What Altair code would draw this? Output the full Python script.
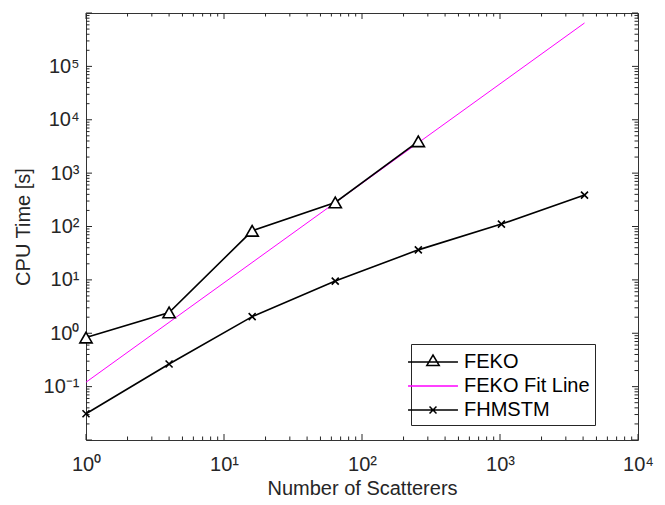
import json
import altair as alt
import pandas as pd

# ---- data ----
FEKO_N = [1, 4, 16, 64, 256]
FEKO_T = [0.83, 2.45, 83, 282, 3950]
FIT_N = [1, 4096]
FIT_T = [0.121, 6.5e5]
FHM_N = [1, 4, 16, 64, 256, 1024, 4096]
FHM_T = [0.031, 0.265, 2.05, 9.5, 36.5, 111, 388]

SERIES = ["FEKO", "FEKO Fit Line", "FHMSTM"]
SERIES_COLORS = ["#000000", "#ff00ff", "#000000"]

X_TICKS = [1, 10, 100, 1000, 10000]
X_TICK_LABELS = ["10⁰", "10¹", "10²", "10³", "10⁴"]
Y_TICKS = [0.1, 1, 10, 100, 1000, 10000, 100000]
Y_TICK_LABELS = ["10⁻¹", "10⁰", "10¹", "10²", "10³", "10⁴", "10⁵"]
X_MAJOR = [1, 10, 100, 1000, 10000]
Y_MAJOR = [1e-2, 1e-1, 1, 10, 100, 1e3, 1e4, 1e5, 1e6]
X_MINOR = [m * 10 ** d for d in range(0, 4) for m in range(2, 10)]
Y_MINOR = [m * 10.0 ** d for d in range(-2, 6) for m in range(2, 10)]

W, H = 552, 427
FONT = "Liberation Sans"
INK = "#262626"
FS = 20

xs = alt.Scale(type="log", domain=[1, 10000], nice=False)
ys = alt.Scale(type="log", domain=[0.01, 1e6], nice=False)

x_lab = json.dumps(X_TICK_LABELS, ensure_ascii=False)
y_lab = json.dumps(Y_TICK_LABELS, ensure_ascii=False)

x_axis = alt.Axis(
    title="Number of Scatterers", values=X_TICKS,
    labelExpr=f"{x_lab}[round(log(datum.value)/LN10)]",
    ticks=False, domain=False, grid=False, labelFlush=False, labelOverlap=False,
    labelFontSize=FS, labelFont=FONT, labelColor=INK, labelPadding=14,
    titleFontSize=FS, titleFont=FONT, titleColor=INK, titleFontWeight="normal",
    titlePadding=4,
)
y_axis = alt.Axis(
    title="CPU Time [s]", values=Y_TICKS,
    labelExpr=f"{y_lab}[round(log(datum.value)/LN10)+1]",
    ticks=False, domain=False, grid=False, labelFlush=False, labelOverlap=False,
    labelFontSize=FS, labelFont=FONT, labelColor=INK, labelPadding=7,
    titleFontSize=FS, titleFont=FONT, titleColor=INK, titleFontWeight="normal",
    titlePadding=10,
)

feko = pd.DataFrame({"n": FEKO_N, "t": FEKO_T})
fit = pd.DataFrame({"n": FIT_N, "t": FIT_T})
fhm = pd.DataFrame({"n": FHM_N, "t": FHM_T})


def xq(field):
    return alt.X(f"{field}:Q", scale=xs, axis=x_axis)


def yq(field):
    return alt.Y(f"{field}:Q", scale=ys, axis=y_axis)


def xticks(vals, length, top):
    d = pd.DataFrame({"v": vals})
    return alt.Chart(d).mark_rule(color=INK, strokeWidth=1).encode(
        x=xq("v"),
        y=alt.value(0 if top else H),
        y2=alt.value(length if top else H - length),
    )


def yticks(vals, length, right):
    d = pd.DataFrame({"v": vals})
    return alt.Chart(d).mark_rule(color=INK, strokeWidth=1).encode(
        y=yq("v"),
        x=alt.value(W if right else 0),
        x2=alt.value(W - length if right else length),
    )


tick_layers = [
    xticks(X_MAJOR, 6, True), xticks(X_MAJOR, 6, False),
    xticks(X_MINOR, 3.5, True), xticks(X_MINOR, 3.5, False),
    yticks(Y_MAJOR, 6, True), yticks(Y_MAJOR, 6, False),
    yticks(Y_MINOR, 3.5, True), yticks(Y_MINOR, 3.5, False),
]

fhm_line = alt.Chart(fhm).mark_line(color="black", strokeWidth=1.6).encode(
    x=xq("n"), y=yq("t")
)
fit_line = alt.Chart(fit).mark_line(color="#ff00ff", strokeWidth=1).encode(
    x=xq("n"), y=yq("t")
)
feko_line = alt.Chart(feko).mark_line(color="black", strokeWidth=1.6).encode(
    x=xq("n"), y=yq("t")
)
feko_pts = alt.Chart(feko).mark_point(
    shape="triangle-up", size=150, filled=False, color="black", fill="white",
    strokeWidth=1.6, opacity=1
).encode(x=xq("n"), y=yq("t"))
fhm_pts = alt.Chart(fhm).mark_point(
    shape="M-1,-1L1,1M-1,1L1,-1", size=49, filled=False, color="black",
    strokeWidth=1.6, opacity=1
).encode(x=xq("n"), y=yq("t"))

# legend symbols (line + marker) as custom paths
P_FEKO = "M-2.08,0L2.08,0M-0.52,0.3L0,-0.58L0.52,0.3Z"
P_FIT = "M-2.08,0L2.08,0"
P_FHM = "M-2.08,0L2.08,0M-0.29,-0.29L0.29,0.29M-0.29,0.29L0.29,-0.29"

legend = alt.Legend(
    title=None, orient="none", legendX=325, legendY=331,
    symbolSize=576, symbolStrokeWidth=1.5, symbolOpacity=1,
    symbolFillColor="transparent", symbolOffset=4, labelOffset=18,
    labelFontSize=FS, labelFont=FONT, labelColor="#000000", labelLimit=400,
    padding=5, rowPadding=1, strokeColor=INK, fillColor="white",
)
leg_df = pd.DataFrame({"s": SERIES})
legend_layer = alt.Chart(leg_df).mark_point(opacity=0, filled=False, size=576).encode(
    color=alt.Color("s:N", scale=alt.Scale(domain=SERIES, range=SERIES_COLORS), legend=legend),
    shape=alt.Shape("s:N", scale=alt.Scale(domain=SERIES, range=[P_FEKO, P_FIT, P_FHM]), legend=legend),
)

chart = (
    alt.layer(*tick_layers, fhm_line, fit_line, feko_line, feko_pts, fhm_pts, legend_layer)
    .properties(width=W, height=H, padding={"left": 5, "top": 4, "right": 0, "bottom": 0})
    .configure(font=FONT)
    .configure_view(stroke="#333333", strokeWidth=1)
)

chart.save("out.html", embed_options={"renderer": "svg", "actions": False})
